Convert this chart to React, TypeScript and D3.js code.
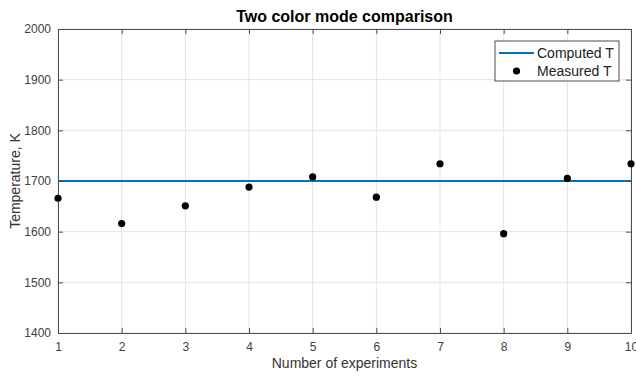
import React, { useEffect, useRef } from 'react';
import * as d3 from 'd3';

// experiment number vs measured temperature
const experiments = [1, 2, 3, 4, 5, 6, 7, 8, 9, 10];
const measuredT = [1666, 1616, 1651, 1688, 1708, 1668, 1734, 1596, 1705, 1734];
const computedT = 1700;
const yTicks = [1400, 1500, 1600, 1700, 1800, 1900, 2000];
const xTicks = [1, 2, 3, 4, 5, 6, 7, 8, 9, 10];

const W = 636, H = 377;
const margin = { top: 29, right: 5, bottom: 44, left: 58 };
const FONT = 'Liberation Sans, Arial, Helvetica, sans-serif';
const AXIS = '#4d4d4d';

export default function App() {
  const ref = useRef<SVGSVGElement>(null);

  useEffect(() => {
    const svg = d3.select(ref.current);
    svg.selectAll('*').remove();

    const width = W - margin.left - margin.right;
    const height = H - margin.top - margin.bottom;

    const x = d3.scaleLinear().domain([1, 10]).range([0, width]);
    const y = d3.scaleLinear().domain([1400, 2000]).range([height, 0]);

    svg.append('rect').attr('width', W).attr('height', H).attr('fill', '#fff');

    const g = svg.append('g')
      .attr('transform', 'translate(' + margin.left + ',' + margin.top + ')');

    // grid
    g.selectAll('.gx').data(xTicks).enter().append('line')
      .attr('x1', d => x(d)).attr('x2', d => x(d))
      .attr('y1', 0).attr('y2', height)
      .attr('stroke', '#e3e3e3').attr('stroke-width', 1);
    g.selectAll('.gy').data(yTicks).enter().append('line')
      .attr('y1', d => y(d)).attr('y2', d => y(d))
      .attr('x1', 0).attr('x2', width)
      .attr('stroke', '#e3e3e3').attr('stroke-width', 1);

    // computed T line
    g.append('line')
      .attr('x1', 0).attr('x2', width)
      .attr('y1', y(computedT)).attr('y2', y(computedT))
      .attr('stroke', '#0072bd').attr('stroke-width', 2);

    // axes (inward ticks, on all four sides)
    const ax = (axis: any) => axis.tickSizeInner(-5).tickSizeOuter(0).tickPadding(9);
    const bottom = g.append('g').attr('transform', 'translate(0,' + height + ')')
      .call(ax(d3.axisBottom(x).tickValues(xTicks).tickFormat(d3.format('d'))));
    const left = g.append('g')
      .call(ax(d3.axisLeft(y).tickValues(yTicks).tickFormat(d3.format('d'))));
    const top = g.append('g').call(ax(d3.axisTop(x).tickValues(xTicks)).tickFormat(() => ''));
    const right = g.append('g').attr('transform', 'translate(' + width + ',0)')
      .call(ax(d3.axisRight(y).tickValues(yTicks)).tickFormat(() => ''));
    [bottom, left, top, right].forEach(a => {
      a.select('.domain').attr('stroke', AXIS);
      a.selectAll('line').attr('stroke', AXIS);
      a.selectAll('text').attr('fill', '#404040').attr('font-family', FONT).attr('font-size', 12);
    });
    left.selectAll('text').attr('dx', 2);

    // measured points
    g.selectAll('.pt').data(experiments).enter().append('circle')
      .attr('cx', d => x(d))
      .attr('cy', (d, i) => y(measuredT[i]))
      .attr('r', 3.6)
      .attr('fill', '#000');

    // title and labels
    svg.append('text')
      .attr('x', margin.left + width / 2).attr('y', 22)
      .attr('text-anchor', 'middle')
      .attr('font-family', FONT).attr('font-size', 16).attr('font-weight', 'bold')
      .attr('fill', '#000')
      .text('Two color mode comparison');
    svg.append('text')
      .attr('x', margin.left + width / 2).attr('y', 368)
      .attr('text-anchor', 'middle')
      .attr('font-family', FONT).attr('font-size', 14).attr('fill', '#333')
      .text('Number of experiments');
    svg.append('text')
      .attr('transform', 'translate(20,' + (margin.top + height / 2) + ') rotate(-90)')
      .attr('text-anchor', 'middle')
      .attr('font-family', FONT).attr('font-size', 14).attr('fill', '#333')
      .text('Temperature, K');

    // legend
    const lg = svg.append('g').attr('transform', 'translate(495,41)');
    lg.append('rect').attr('width', 124).attr('height', 40)
      .attr('fill', '#fff').attr('stroke', AXIS).attr('stroke-width', 1);
    lg.append('line').attr('x1', 4).attr('x2', 39).attr('y1', 12).attr('y2', 12)
      .attr('stroke', '#0072bd').attr('stroke-width', 2);
    lg.append('circle').attr('cx', 21.5).attr('cy', 30).attr('r', 3.6).attr('fill', '#000');
    lg.append('text').attr('x', 42).attr('y', 17)
      .attr('font-family', FONT).attr('font-size', 14).attr('fill', '#222')
      .text('Computed T');
    lg.append('text').attr('x', 42).attr('y', 35)
      .attr('font-family', FONT).attr('font-size', 14).attr('fill', '#222')
      .text('Measured T');
  }, []);

  return (
    <svg ref={ref} width={W} height={H}
      style={{ position: 'absolute', left: 0, top: 0, display: 'block' }} />
  );
}
